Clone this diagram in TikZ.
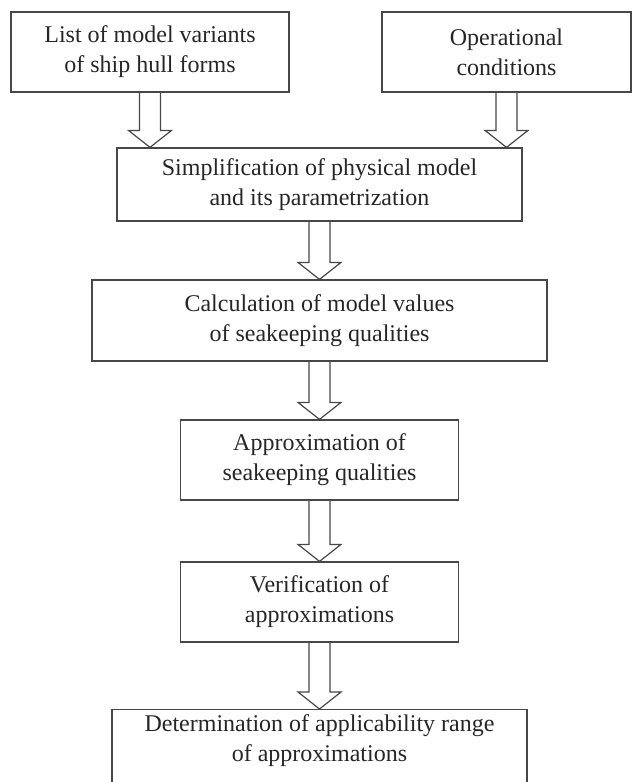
\documentclass[tikz,border=0pt]{standalone}
\usepackage{fontspec}
\setmainfont{Liberation Serif}
\usepackage{tikz}
\usetikzlibrary{calc}

\newcommand{\blockarrow}[2]{%
  \draw[arrowline] ($(#1)+(-10.5,0)$) -- ($(#2)+(-10.5,-17)$) -- ($(#2)+(-21.5,-17)$)
    -- (#2) -- ($(#2)+(21.5,-17)$) -- ($(#2)+(10.5,-17)$) -- ($(#1)+(10.5,0)$);}

\begin{document}
\begin{tikzpicture}[x=0.5pt, y=-0.5pt,
            stepbox/.style={draw=black!72, line width=0.6pt, text=black!85, align=center,
              font=\fontsize{12pt}{15pt}\selectfont, inner sep=0pt},
            arrowline/.style={draw=black!72, line width=0.6pt, line join=miter}]
            \useasboundingbox (0,0) rectangle (632,782);
            \node[stepbox, minimum width=139pt, minimum height=40pt] (list) at (150,52) {List of model variants\\of ship hull forms};
            \node[stepbox, minimum width=124.5pt, minimum height=40pt] (ops) at (506.5,52) {Operational\\conditions};
            \node[stepbox, minimum width=202.5pt, minimum height=36.5pt] (simp) at (319.5,184.5) {Simplification of physical model\\and its parametrization};
            \node[stepbox, minimum width=227.5pt, minimum height=40.5pt] (calc) at (319.5,320.5) {Calculation of model values\\of seakeeping qualities};
            \node[stepbox, minimum width=139pt, minimum height=40pt] (approx) at (319.5,460) {Approximation of\\seakeeping qualities};
            \node[stepbox, minimum width=139pt, minimum height=40pt] (verif) at (319.5,602) {Verification of\\approximations};
            \node[stepbox, minimum width=207.5pt, text depth=24pt, inner ysep=2.5pt, anchor=north] (determ) at (319.5,709) {Determination of applicability range\\of approximations};

            \blockarrow{list.south}{list.south |- simp.north}
            \blockarrow{ops.south}{ops.south |- simp.north}
            \blockarrow{simp.south}{calc.north}
            \blockarrow{calc.south}{approx.north}
            \blockarrow{approx.south}{verif.north}
            \blockarrow{verif.south}{determ.north}
\end{tikzpicture}
\end{document}
